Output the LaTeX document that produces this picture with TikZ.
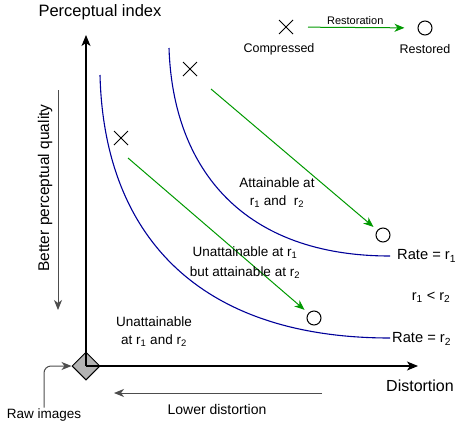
\documentclass[tikz,border=0pt]{standalone}
\usepackage{fontspec}
\setmainfont{Liberation Sans}
\usetikzlibrary{arrows.meta,shapes.geometric,shapes.misc}
\definecolor{navyc}{HTML}{000099}
\definecolor{greenc}{HTML}{009900}
\definecolor{grayc}{HTML}{4D4D4D}
\definecolor{fillc}{HTML}{B3B3B3}
\newcommand{\rsub}[1]{r\textsubscript{#1}}
\begin{document}
\begin{tikzpicture}[x=1pt,y=-1pt,
  lbl/.style={inner sep=1pt, text=black, align=center},
  axisarr/.style={line width=1.1pt, -{Stealth[length=11pt,width=9pt,inset=3pt]}},
  rcurve/.style={navyc, line width=1.1pt},
  garrow/.style={greenc, line width=1pt, -{Stealth[length=10pt,width=8pt,inset=3pt]}},
  grarrow/.style={grayc, line width=1pt, -{Stealth[length=10pt,width=8pt,inset=3pt]}},
  xmark/.style={cross out, draw, line width=1pt, minimum size=13pt, inner sep=0pt},
  omark/.style={circle, draw, line width=1pt, minimum size=14pt, inner sep=0pt},
]
\useasboundingbox (0,0) rectangle (466,426);

% origin diamond (raw images)
\coordinate (org) at (86,366);
\node[diamond, draw, fill=fillc, line width=1pt, minimum width=28pt, minimum height=28pt, inner sep=0pt] (raw) at (org) {};

% axes
\coordinate (ytip) at (86,35);
\coordinate (xtip) at (418,366);
\draw[axisarr] (org) -- (ytip);
\draw[axisarr] (org) -- (xtip);

% axis labels
\node[lbl, font=\fontsize{16.5}{20}\selectfont] (pidx) at (100,12) {Perceptual index};
\node[lbl, font=\fontsize{16}{20}\selectfont] (dist) at (420,386) {Distortion};

% better perceptual quality
\coordinate (bq1) at (58,90);
\coordinate (bq2) at (58,310);
\draw[grarrow] (bq1) -- (bq2);
\node[lbl, rotate=90, font=\fontsize{15.5}{19}\selectfont] (bpq) at (45,188) {Better perceptual quality};

% lower distortion
\coordinate (ld1) at (322,393);
\coordinate (ld2) at (114,393);
\draw[grarrow] (ld1) -- (ld2);
\node[lbl, font=\fontsize{14}{17}\selectfont] (ldt) at (217,409) {Lower distortion};

% raw images
\node[lbl, font=\fontsize{13.5}{16}\selectfont] (rawtxt) at (44,415) {Raw images};
\draw[grarrow, rounded corners=7pt] (rawtxt.north) |- (raw.west);

% rate curves
\coordinate (k2s) at (100,75);
\coordinate (k2e) at (390,338);
\coordinate (k1s) at (169,48);
\coordinate (k1e) at (390,256);
\draw[rcurve] (k2s) .. controls (104,235) and (198,338) .. (k2e);
\draw[rcurve] (k1s) .. controls (173,171) and (245,256) .. (k1e);
\node[lbl, anchor=west, font=\fontsize{14.7}{18}\selectfont] (rate1) at (396,256) {Rate = \rsub{1}};
\node[lbl, anchor=west, font=\fontsize{14.7}{18}\selectfont] (rate2) at (391,339) {Rate = \rsub{2}};
\node[lbl, font=\fontsize{14.5}{18}\selectfont] (rless) at (431,297) {\rsub{1} < \rsub{2}};

% points and restoration arrows
\node[xmark] (x1) at (190,69) {};
\node[xmark] (x2) at (121,138) {};
\node[omark] (c1) at (383,235) {};
\node[omark] (c2) at (314,318) {};
\coordinate (a1s) at (211,89);
\coordinate (a2s) at (128,158);
\draw[garrow, shorten >=5pt] (a1s) -- (c1);
\draw[garrow, shorten >=5pt] (a2s) -- (c2);

% region labels
\node[lbl, font=\fontsize{13.5}{18}\selectfont] (att) at (277,193) {Attainable at\\\rsub{1} and\ \ \rsub{2}};
\node[lbl, font=\fontsize{13.5}{20}\selectfont] (unatt1) at (245,263) {Unattainable at \rsub{1}\\but attainable at \rsub{2}};
\node[lbl, font=\fontsize{13.5}{18}\selectfont] (unatt2) at (154,332) {Unattainable\\at \rsub{1} and \rsub{2}};

% legend
\node[xmark] (lx) at (286,27) {};
\node[omark] (lo) at (425,28) {};
\draw[garrow, shorten <=15pt, shorten >=13pt] (lx) -- node[lbl, above=1pt, font=\fontsize{11}{13}\selectfont] (restl) {Restoration} (lo);
\node[lbl, font=\fontsize{12.5}{15}\selectfont] (comp) at (279,49) {Compressed};
\node[lbl, font=\fontsize{12.5}{15}\selectfont] (rest) at (425,49) {Restored};
\end{tikzpicture}
\end{document}
